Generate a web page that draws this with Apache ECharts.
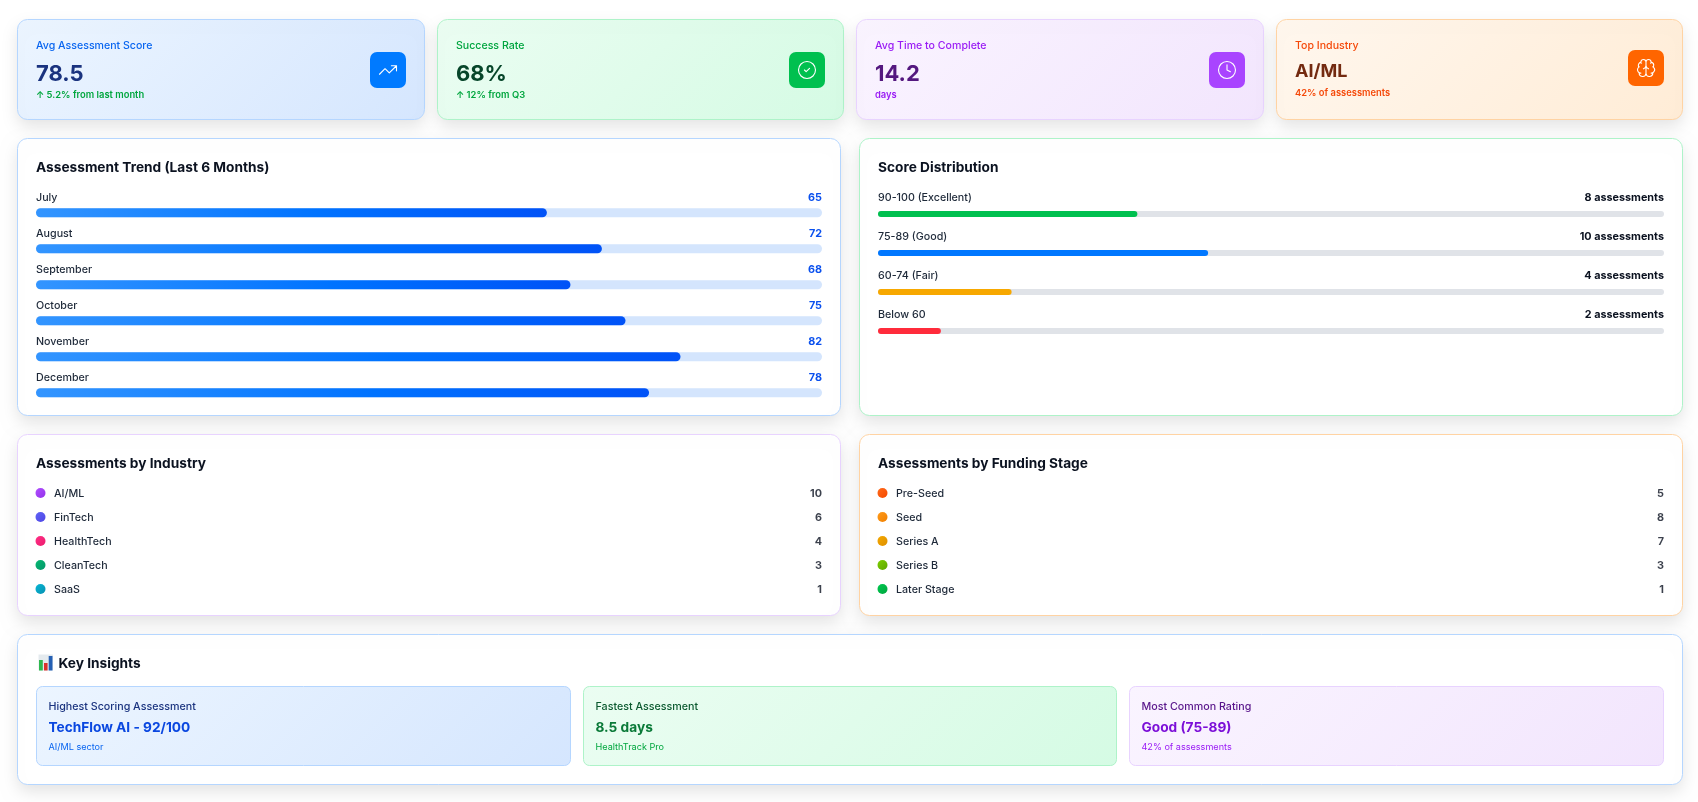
<!DOCTYPE html>
<html>
<head>
<meta charset="utf-8">
<style>
html, body { margin: 0; background: #fff; }
#main { width: 1698px; height: 802px; }
</style>
<script src="https://cdn.jsdelivr.net/npm/echarts@6/dist/echarts.min.js"></script>
</head>
<body>
<div id="main"></div>
<script>
// data
const months = ['July', 'August', 'September', 'October', 'November', 'December'];
const trendScores = [65, 72, 68, 75, 82, 78];
const scoreBands = ['90-100 (Excellent)', '75-89 (Good)', '60-74 (Fair)', 'Below 60'];
const bandCounts = [8, 10, 4, 2];
const bandPercents = [33, 42, 17, 8];
const bandColors = ['#00c04f', '#0077ff', '#f7a800', '#ff2b3b'];
const industries = ['AI/ML', 'FinTech', 'HealthTech', 'CleanTech', 'SaaS'];
const industryCounts = [10, 6, 4, 3, 1];
const industryColors = [['#b04dff', '#9333ea'], ['#5f63f5', '#4f46e5'], ['#ff2f85', '#ec1b6e'], ['#05b872', '#059669'], ['#06b6d4', '#0891b2']];
const stages = ['Pre-Seed', 'Seed', 'Series A', 'Series B', 'Later Stage'];
const stageCounts = [5, 8, 7, 3, 1];
const stageColors = [['#ff6a1a', '#f54900'], ['#ff9a1a', '#f08000'], ['#f5a800', '#dd9000'], ['#7ccf00', '#5ea500'], ['#00c950', '#00a63e']];

const FONT = 'Inter';
const BLUE = { from: '#ecf5ff', to: '#d5e6fe', border: '#b5d6ff' };
const GREEN = { from: '#ebfdf2', to: '#d5fbe4', border: '#aef3c9' };
const PURPLE = { from: '#faf4ff', to: '#f2e5fd', border: '#e8d3ff' };
const ORANGE = { from: '#fff7ee', to: '#ffecd6', border: '#ffd3a3' };

// lucide icons, graphic component has no plain path type so register them
const icons = {
    iconTrend: 'M22 7 13.5 15.5 8.5 10.5 2 17M16 7h6v6',
    iconCheck: 'M12 2a10 10 0 1 0 0 20a10 10 0 1 0 0-20ZM9 12l2 2 4-4',
    iconClock: 'M12 2a10 10 0 1 0 0 20a10 10 0 1 0 0-20ZM12 6v6l4 2',
    iconBrain: 'M12 5a3 3 0 1 0-5.997.125 4 4 0 0 0-2.526 5.77 4 4 0 0 0 .556 6.588A4 4 0 1 0 12 18ZM12 5a3 3 0 1 1 5.997.125 4 4 0 0 1 2.526 5.77 4 4 0 0 1-.556 6.588A4 4 0 1 1 12 18ZM15 13a4.5 4.5 0 0 1-3-4 4.5 4.5 0 0 1-3 4M17.599 6.5a3 3 0 0 0 .399-1.375M6.003 5.125A3 3 0 0 0 6.401 6.5M3.477 10.896a4 4 0 0 1 .585-.396M19.938 10.5a4 4 0 0 1 .585.396M6 18a4 4 0 0 1-1.967-.516M19.967 17.484A4 4 0 0 1 18 18'
};
Object.keys(icons).forEach((k) => {
    echarts.graphic.registerShape(k, echarts.graphic.extendPath(icons[k], {}));
});

const graphics = [];

// css 135deg gradient, real 45 degree line so it needs page coordinates
function diag(c, x, y, w, h) {
    const d = (w + h) / 4;
    const cx = x + w / 2;
    const cy = y + h / 2;
    return {
        type: 'linear', global: true, x: cx - d, y: cy - d, x2: cx + d, y2: cy + d,
        colorStops: [{ offset: 0, color: c.from }, { offset: 1, color: c.to }]
    };
}

function text(x, y, str, size, weight, fill, align) {
    graphics.push({
        type: 'text', x: x, y: y, z: 5,
        style: { text: str, fontFamily: FONT, fontSize: size, fontWeight: weight, fill: fill, align: align || 'left', verticalAlign: 'middle' }
    });
}

function box(x, y, w, h, r, fill, border, shadow) {
    const style = { fill: fill, stroke: border, lineWidth: 1 };
    if (shadow) {
        style.shadowBlur = 16;
        style.shadowOffsetY = 7;
        style.shadowColor = 'rgba(0,0,0,0.11)';
    }
    graphics.push({ type: 'rect', shape: { x: x + 0.5, y: y + 0.5, width: w - 1, height: h - 1, r: r }, style: style, z: 1 });
}

function kpi(x, w, c, label, labelColor, value, valueColor, valueSize, sub, subColor, iconX, iconColor, iconName, dy) {
    box(x, 19, w, 101, 10, diag(c, x, 19, w, 101), c.border, true);
    text(x + 19, 45.5, label, 10.6, 500, labelColor);
    text(x + 19, 74 + dy, value, valueSize, 700, valueColor);
    text(x + 19, 95 + dy, sub, 9.4, 600, subColor);
    graphics.push({ type: 'rect', shape: { x: iconX, y: 52 + dy, width: 36, height: 36, r: 7 }, style: { fill: iconColor }, z: 2 });
    graphics.push({
        type: iconName, z: 3, x: iconX + 7.8, y: 59.8 + dy, scaleX: 0.85, scaleY: 0.85,
        style: { fill: 'none', stroke: '#fff', lineWidth: 1.3, lineCap: 'round', lineJoin: 'round' }
    });
}

function insight(x, w, c, label, labelColor, value, valueColor, sub, subColor) {
    box(x, 686, w, 80, 6, diag(c, x, 686, w, 80), c.border, false);
    text(x + 12.5, 706.5, label, 10.7, 500, labelColor);
    text(x + 12.5, 727.5, value, 13.7, 700, valueColor);
    text(x + 12.5, 747, sub, 9.1, 400, subColor);
}

kpi(17, 408, BLUE, 'Avg Assessment Score', '#0a66f0', '78.5', '#1a337f', 22, '↑ 5.2% from last month', '#00a63e', 370, '#007aff', 'iconTrend', 0);
kpi(437, 407, GREEN, 'Success Rate', '#00a53f', '68%', '#07462a', 22, '↑ 12% from Q3', '#00a63e', 789, '#00c04f', 'iconCheck', 0);
kpi(856, 408, PURPLE, 'Avg Time to Complete', '#9a1cf5', '14.2', '#54187f', 22, 'days', '#9a1cf5', 1209, '#a944ff', 'iconClock', 0);
kpi(1276, 407, ORANGE, 'Top Industry', '#f5490a', 'AI/ML', '#732a10', 18, '42% of assessments', '#f5490a', 1628, '#ff6500', 'iconBrain', -2);

box(17, 138, 824, 278, 10, '#fff', BLUE.border, true);
box(859, 138, 824, 278, 10, '#fff', GREEN.border, true);
box(17, 434, 824, 182, 10, '#fff', PURPLE.border, true);
box(859, 434, 824, 182, 10, '#fff', ORANGE.border, true);
box(17, 634, 1666, 151, 10, '#fff', BLUE.border, true);

text(36, 168, 'Assessment Trend (Last 6 Months)', 13.7, 700, '#0b1220');
text(878, 168, 'Score Distribution', 13.7, 700, '#0b1220');
text(36, 464, 'Assessments by Industry', 13.7, 700, '#0b1220');
text(878, 464, 'Assessments by Funding Stage', 13.7, 700, '#0b1220');
text(58.5, 663.5, 'Key Insights', 13.7, 700, '#0b1220');

// bar chart emoji in front of Key Insights
graphics.push({ type: 'rect', shape: { x: 38.5, y: 654.5, width: 14.5, height: 16 }, style: { fill: '#e4eaee' }, z: 2 });
graphics.push({ type: 'rect', shape: { x: 39, y: 660, width: 3.8, height: 10.5 }, style: { fill: '#2fb84f' }, z: 3 });
graphics.push({ type: 'rect', shape: { x: 44, y: 663, width: 3.6, height: 7.5 }, style: { fill: '#d8322c' }, z: 3 });
graphics.push({ type: 'rect', shape: { x: 48.7, y: 656, width: 3.8, height: 14.5 }, style: { fill: '#2560b4' }, z: 3 });

insight(36, 535, BLUE, 'Highest Scoring Assessment', '#1a337f', 'TechFlow AI - 92/100', '#0a47e0', 'AI/ML sector', '#0a66f0');
insight(583, 534, GREEN, 'Fastest Assessment', '#0c5a30', '8.5 days', '#0a7a38', 'HealthTrack Pro', '#00a63e');
insight(1129, 535, PURPLE, 'Most Common Rating', '#59168b', 'Good (75-89)', '#7c0fd8', '42% of assessments', '#9a1cf5');

const hiddenX = (i, max) => ({ gridIndex: i, type: 'value', min: 0, max: max, show: false });
const hiddenY = (i, cats) => ({ gridIndex: i, type: 'category', data: cats, inverse: true, show: false });

const blueFill = {
    type: 'linear', x: 0, y: 0, x2: 1, y2: 0,
    colorStops: [{ offset: 0, color: '#3395ff' }, { offset: 0.55, color: '#0073ff' }, { offset: 1, color: '#0052f7' }]
};

// left label on the fill, right label on the track
function barPair(i, cats, values, rightValues, barW, labelDy, trackColor, fill, rightText, rightColor, rightWeight) {
    return [{
        type: 'bar', xAxisIndex: i, yAxisIndex: i, barWidth: barW, barGap: '-100%', z: 2, silent: true,
        data: values.map(() => 100),
        itemStyle: { color: trackColor, borderRadius: barW / 2 },
        label: {
            show: true, position: ['100%', labelDy], align: 'right', verticalAlign: 'middle',
            fontFamily: FONT, fontSize: 10.8, fontWeight: rightWeight, color: rightColor,
            formatter: (p) => rightText(rightValues[p.dataIndex])
        }
    }, {
        type: 'bar', xAxisIndex: i, yAxisIndex: i, barWidth: barW, barGap: '-100%', z: 3, silent: true,
        data: values.map((v, k) => ({ value: v, itemStyle: { color: fill(k) } })),
        itemStyle: { borderRadius: barW / 2 },
        label: {
            show: true, position: [0, labelDy], align: 'left', verticalAlign: 'middle',
            fontFamily: FONT, fontSize: 10.7, fontWeight: 500, color: '#1e2939',
            formatter: (p) => cats[p.dataIndex]
        }
    }];
}

function dotList(i, cats, values, colors) {
    return [{
        type: 'scatter', xAxisIndex: i, yAxisIndex: i, symbolSize: 10, clip: false, silent: true,
        data: cats.map((c, k) => ({
            value: [0, c],
            itemStyle: { opacity: 1, color: { type: 'linear', x: 0, y: 0, x2: 1, y2: 1, colorStops: [{ offset: 0, color: colors[k][0] }, { offset: 1, color: colors[k][1] }] } }
        })),
        label: {
            show: true, position: 'right', distance: 8.5, offset: [0, 0.3],
            fontFamily: FONT, fontSize: 10.7, fontWeight: 500, color: '#1e2939',
            formatter: (p) => cats[p.dataIndex]
        }
    }, {
        type: 'scatter', xAxisIndex: i, yAxisIndex: i, symbolSize: 0, clip: false, silent: true,
        data: cats.map((c) => [1, c]),
        label: {
            show: true, position: 'left', distance: 0, offset: [0, 0.3],
            fontFamily: FONT, fontSize: 10.8, fontWeight: 700, color: '#0b1220',
            formatter: (p) => values[p.dataIndex]
        }
    }];
}

const option = {
    animation: false,
    graphic: { elements: graphics },
    grid: [
        { left: 36, width: 786, top: 194.7, height: 216 },
        { left: 878, width: 786, top: 194.5, height: 156 },
        { left: 40.5, width: 781.5, top: 481, height: 120 },
        { left: 882.5, width: 781.5, top: 481, height: 120 }
    ],
    xAxis: [hiddenX(0, 100), hiddenX(1, 100), hiddenX(2, 1), hiddenX(3, 1)],
    yAxis: [hiddenY(0, months), hiddenY(1, scoreBands), hiddenY(2, industries), hiddenY(3, stages)],
    series: [
        ...barPair(0, months, trendScores, trendScores, 9, -10, '#d4e5fd', () => blueFill, (v) => v, '#0a50ee', 700),
        ...barPair(1, scoreBands, bandPercents, bandCounts, 6, -13, '#e0e3e8', (k) => bandColors[k], (v) => v + ' assessments', '#0b1220', 700),
        ...dotList(2, industries, industryCounts, industryColors),
        ...dotList(3, stages, stageCounts, stageColors)
    ]
};

const myChart = echarts.init(document.getElementById('main'));
myChart.setOption(option);
</script>
</body>
</html>
